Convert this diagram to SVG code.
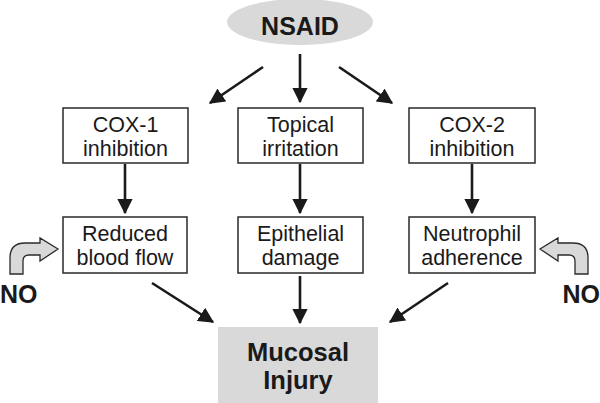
<svg xmlns="http://www.w3.org/2000/svg" width="600" height="403" viewBox="0 0 600 403">
<style>
.box{fill:#fff;stroke:#2a2a2a;stroke-width:1.5}
.t{font-family:"Liberation Sans",Arial,sans-serif;font-size:21.5px;fill:#1a1a1a;text-anchor:middle}
.b{font-family:"Liberation Sans",Arial,sans-serif;font-weight:bold;fill:#1a1a1a;text-anchor:middle}
.c{stroke:#1a1a1a;stroke-width:2.6;fill:none;marker-end:url(#ah)}
.no{fill:#d9d9d9;stroke:#2a2a2a;stroke-width:1.3}
</style>
<defs>
<marker id="ah" markerWidth="6" markerHeight="6" refX="5.5" refY="3" orient="auto" markerUnits="strokeWidth" viewBox="0 0 6 6">
<path d="M0,0 L6,3 L0,6 Z" fill="#1a1a1a"/>
</marker>
</defs>
<g id="nsaid">
<ellipse cx="300" cy="22" rx="73" ry="23" fill="#d9d9d9"/>
<text class="b" x="300" y="35" font-size="25">NSAID</text>
</g>
<g id="cox1">
<rect class="box" x="63" y="108" width="125" height="55"/>
<text class="t" x="125.5" y="132">COX-1</text>
<text class="t" x="125.5" y="156">inhibition</text>
</g>
<g id="topical">
<rect class="box" x="238" y="108" width="125" height="55"/>
<text class="t" x="300.5" y="132">Topical</text>
<text class="t" x="300.5" y="156">irritation</text>
</g>
<g id="cox2">
<rect class="box" x="409" y="108" width="126" height="55"/>
<text class="t" x="472" y="132">COX-2</text>
<text class="t" x="472" y="156">inhibition</text>
</g>
<g id="reduced">
<rect class="box" x="63" y="217" width="124" height="56"/>
<text class="t" x="125" y="241">Reduced</text>
<text class="t" x="125" y="265">blood flow</text>
</g>
<g id="epithelial">
<rect class="box" x="238" y="217" width="125" height="56"/>
<text class="t" x="300.5" y="241">Epithelial</text>
<text class="t" x="300.5" y="265">damage</text>
</g>
<g id="neutrophil">
<rect class="box" x="409" y="217" width="126" height="56"/>
<text class="t" x="472" y="241">Neutrophil</text>
<text class="t" x="472" y="265">adherence</text>
</g>
<g id="mucosal">
<rect x="218" y="327" width="160" height="76" fill="#d9d9d9"/>
<text class="b" x="298" y="361" font-size="25.5">Mucosal</text>
<text class="b" x="298" y="389" font-size="25.5">Injury</text>
</g>
<g id="no-left">
<path class="no" d="M10,274 L10,258 Q10,243 25,243 L40,243 L40,238 L58,249 L40,261 L40,255 L29,255 Q23,255 23,261 L23,274 Z"/>
<text class="b" x="0" y="303" font-size="25" style="text-anchor:start">NO</text>
</g>
<g id="no-right">
<path class="no" transform="translate(598,0) scale(-1,1)" d="M10,274 L10,258 Q10,243 25,243 L40,243 L40,238 L58,249 L40,261 L40,255 L29,255 Q23,255 23,261 L23,274 Z"/>
<text class="b" x="600" y="303" font-size="25" style="text-anchor:end">NO</text>
</g>
<g id="connectors">
<line class="c" x1="263" y1="67" x2="210" y2="103"/>
<line class="c" x1="300" y1="54" x2="300" y2="102"/>
<line class="c" x1="339" y1="67" x2="392" y2="103"/>
<line class="c" x1="125" y1="164" x2="125" y2="213"/>
<line class="c" x1="300" y1="164" x2="300" y2="213"/>
<line class="c" x1="472" y1="164" x2="472" y2="213"/>
<line class="c" x1="152" y1="283" x2="213" y2="322"/>
<line class="c" x1="300" y1="276" x2="300" y2="323"/>
<line class="c" x1="448" y1="283" x2="390" y2="322"/>
</g>
</svg>
